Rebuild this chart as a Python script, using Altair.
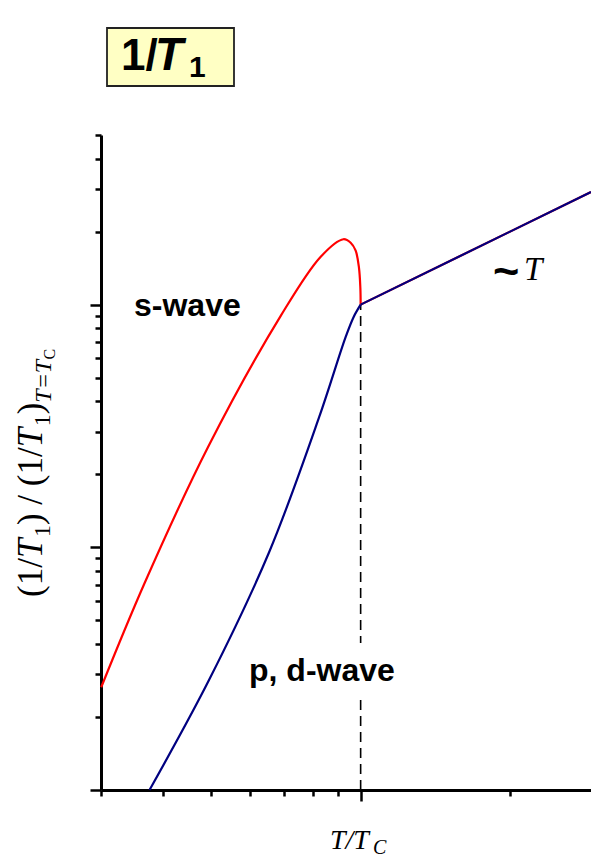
import altair as alt
import pandas as pd

# Reduced temperature T/Tc and normalized relaxation rate (1/T1)/(1/T1)_Tc
s_wave_t = [0.3003, 0.3671, 0.4923, 0.6908, 0.8310, 0.9232, 0.9548, 0.9772,
            0.9922, 0.9986, 1.000]
s_wave_rate = [0.0265, 0.0711, 0.2579, 0.9011, 1.576, 1.860, 1.799, 1.668,
               1.420, 1.175, 1.000]

pd_wave_t = [0.3757, 0.4959, 0.6544, 0.8249, 0.9330, 0.9681, 1.000]
pd_wave_rate = [0.0100, 0.02858, 0.09565, 0.3438, 0.7365, 0.8901, 1.000]

# Normal state: Korringa law, 1/T1 ~ T
normal_t = [1.0, 2.91]
normal_rate = [1.0, 2.91]

t_c = 1.0
x_ticks = [0.3, 0.4, 0.5, 0.6, 0.7, 0.8, 0.9, 1, 2]
y_ticks = [0.01, 0.02, 0.03, 0.04, 0.05, 0.06, 0.07, 0.08, 0.09,
           0.1, 0.2, 0.3, 0.4, 0.5, 0.6, 0.7, 0.8, 0.9, 1, 2, 3, 4, 5]

RED = "#ff0000"
BLUE = "#000080"

# plot-area geometry (page offsets used for free-standing text)
LEFT, TOP = 101, 135
W, H = 490, 655

xscale = alt.Scale(type="log", domain=[0.3, 2.91], nice=False)
yscale = alt.Scale(type="log", domain=[0.01, 5], nice=False)

x_axis = alt.Axis(values=x_ticks, labels=False, title=None, grid=False,
                  domainColor="black", domainWidth=3, tickColor="black",
                  tickWidth=2.5,
                  tickSize={"condition": {"test": "datum.value == 1", "value": 11},
                            "value": 6})
y_axis = alt.Axis(values=y_ticks, labels=False, title=None, grid=False,
                  domainColor="black", domainWidth=3, tickColor="black",
                  tickWidth=2.5,
                  tickSize={"condition": {"test": "datum.value == 0.01 || datum.value == 0.1 || datum.value == 1",
                                          "value": 11},
                            "value": 6})


def curve(t, r, color, interp):
    df = pd.DataFrame({"t": t, "r": r})
    return alt.Chart(df).mark_line(color=color, strokeWidth=2.2,
                                   interpolate=interp).encode(
        x=alt.X("t:Q", scale=xscale, axis=x_axis),
        y=alt.Y("r:Q", scale=yscale, axis=y_axis),
        order="t:Q",
    )


one = pd.DataFrame({"k": [0]})


def label(text, px, py, size, font="Liberation Sans", weight="bold",
          style="normal", angle=0):
    return alt.Chart(one).mark_text(
        text=text, font=font, fontSize=size, fontWeight=weight,
        fontStyle=style, align="left", baseline="alphabetic",
        angle=angle, color="black",
    ).encode(x=alt.value(px - LEFT), y=alt.value(py - TOP))


def box(x1, y1, x2, y2, fill, stroke=None, sw=0):
    kw = dict(fill=fill)
    if stroke:
        kw.update(stroke=stroke, strokeWidth=sw)
    return alt.Chart(one).mark_rect(**kw).encode(
        x=alt.value(x1 - LEFT), x2=alt.value(x2 - LEFT),
        y=alt.value(y1 - TOP), y2=alt.value(y2 - TOP))


# dashed guide at Tc
tc_df = pd.DataFrame({"t": [t_c], "lo": [0.01], "hi": [1.0]})
tc_rule = alt.Chart(tc_df).mark_rule(color="black", strokeWidth=1.6,
                                     strokeDash=[10, 6]).encode(
    x=alt.X("t:Q", scale=xscale, axis=x_axis),
    y=alt.Y("lo:Q", scale=yscale, axis=y_axis),
    y2="hi:Q",
)

layers = [
    tc_rule,
    box(246, 643, 402, 700, "white"),
    curve(s_wave_t, s_wave_rate, RED, "catmull-rom"),
    curve(normal_t, normal_rate, RED, "linear"),
    curve(pd_wave_t, pd_wave_rate, BLUE, "catmull-rom"),
    curve(normal_t, normal_rate, BLUE, "linear"),
    label("s-wave", 134, 316, 32),
    label("p, d-wave", 249, 681, 32),
    label("~", 493, 286, 45),
    label("T", 524, 280, 33, font="Liberation Serif", weight="normal",
          style="italic"),
    # x-axis title: T/T_C
    label("T/T", 330, 849, 28, font="Liberation Serif", weight="normal",
          style="italic"),
    label("C", 373, 854, 20, font="Liberation Serif", weight="normal",
          style="italic"),
    # boxed heading 1/T1
    box(107, 28, 234, 86, "#ffffc4", "#222222", 1.8),
    label("1/", 121, 70, 44),
    label("T", 155, 70, 46, style="italic"),
    label("1", 189, 77, 30),
]

# rotated y-axis title: (1/T1) / (1/T1)_{T=Tc}, laid out piece by piece upward
MAIN, SUB, SUBSUB = 35, 24, 16
yt_pieces = [
    ("(1/", MAIN, "normal", 0, 1.111),
    ("T", MAIN, "italic", 0, 0.60),
    ("1", SUB, "normal", 8, 0.5),
    (")", MAIN, "normal", 0, 0.333),
    ("/", MAIN, "normal", 0, 0.278),
    ("(1/", MAIN, "normal", 0, 1.111),
    ("T", MAIN, "italic", 0, 0.60),
    ("1", SUB, "normal", 8, 0.5),
    (")", MAIN, "normal", 0, 0.333),
    ("T=T", SUB, "italic", 9, 1.80),
    ("C", SUBSUB, "normal", 13, 0.667),
]
gaps = {4: 0.25, 5: 0.25}
ypos = 597.0
base_x = 42
for i, (txt, size, style, shift, adv) in enumerate(yt_pieces):
    ypos -= gaps.get(i, 0) * MAIN
    layers.append(label(txt, base_x + shift, ypos, size,
                        font="Liberation Serif", weight="normal",
                        style=style, angle=270))
    ypos -= adv * size

chart = alt.layer(*layers).properties(
    width=W, height=H,
    autosize=alt.AutoSizeParams(type="none"),
    padding={"left": LEFT, "top": TOP, "right": 0, "bottom": 857 - TOP - H},
    background="white",
).configure_view(stroke=None)

chart.save("out.html", embed_options={"renderer": "svg", "actions": False})
